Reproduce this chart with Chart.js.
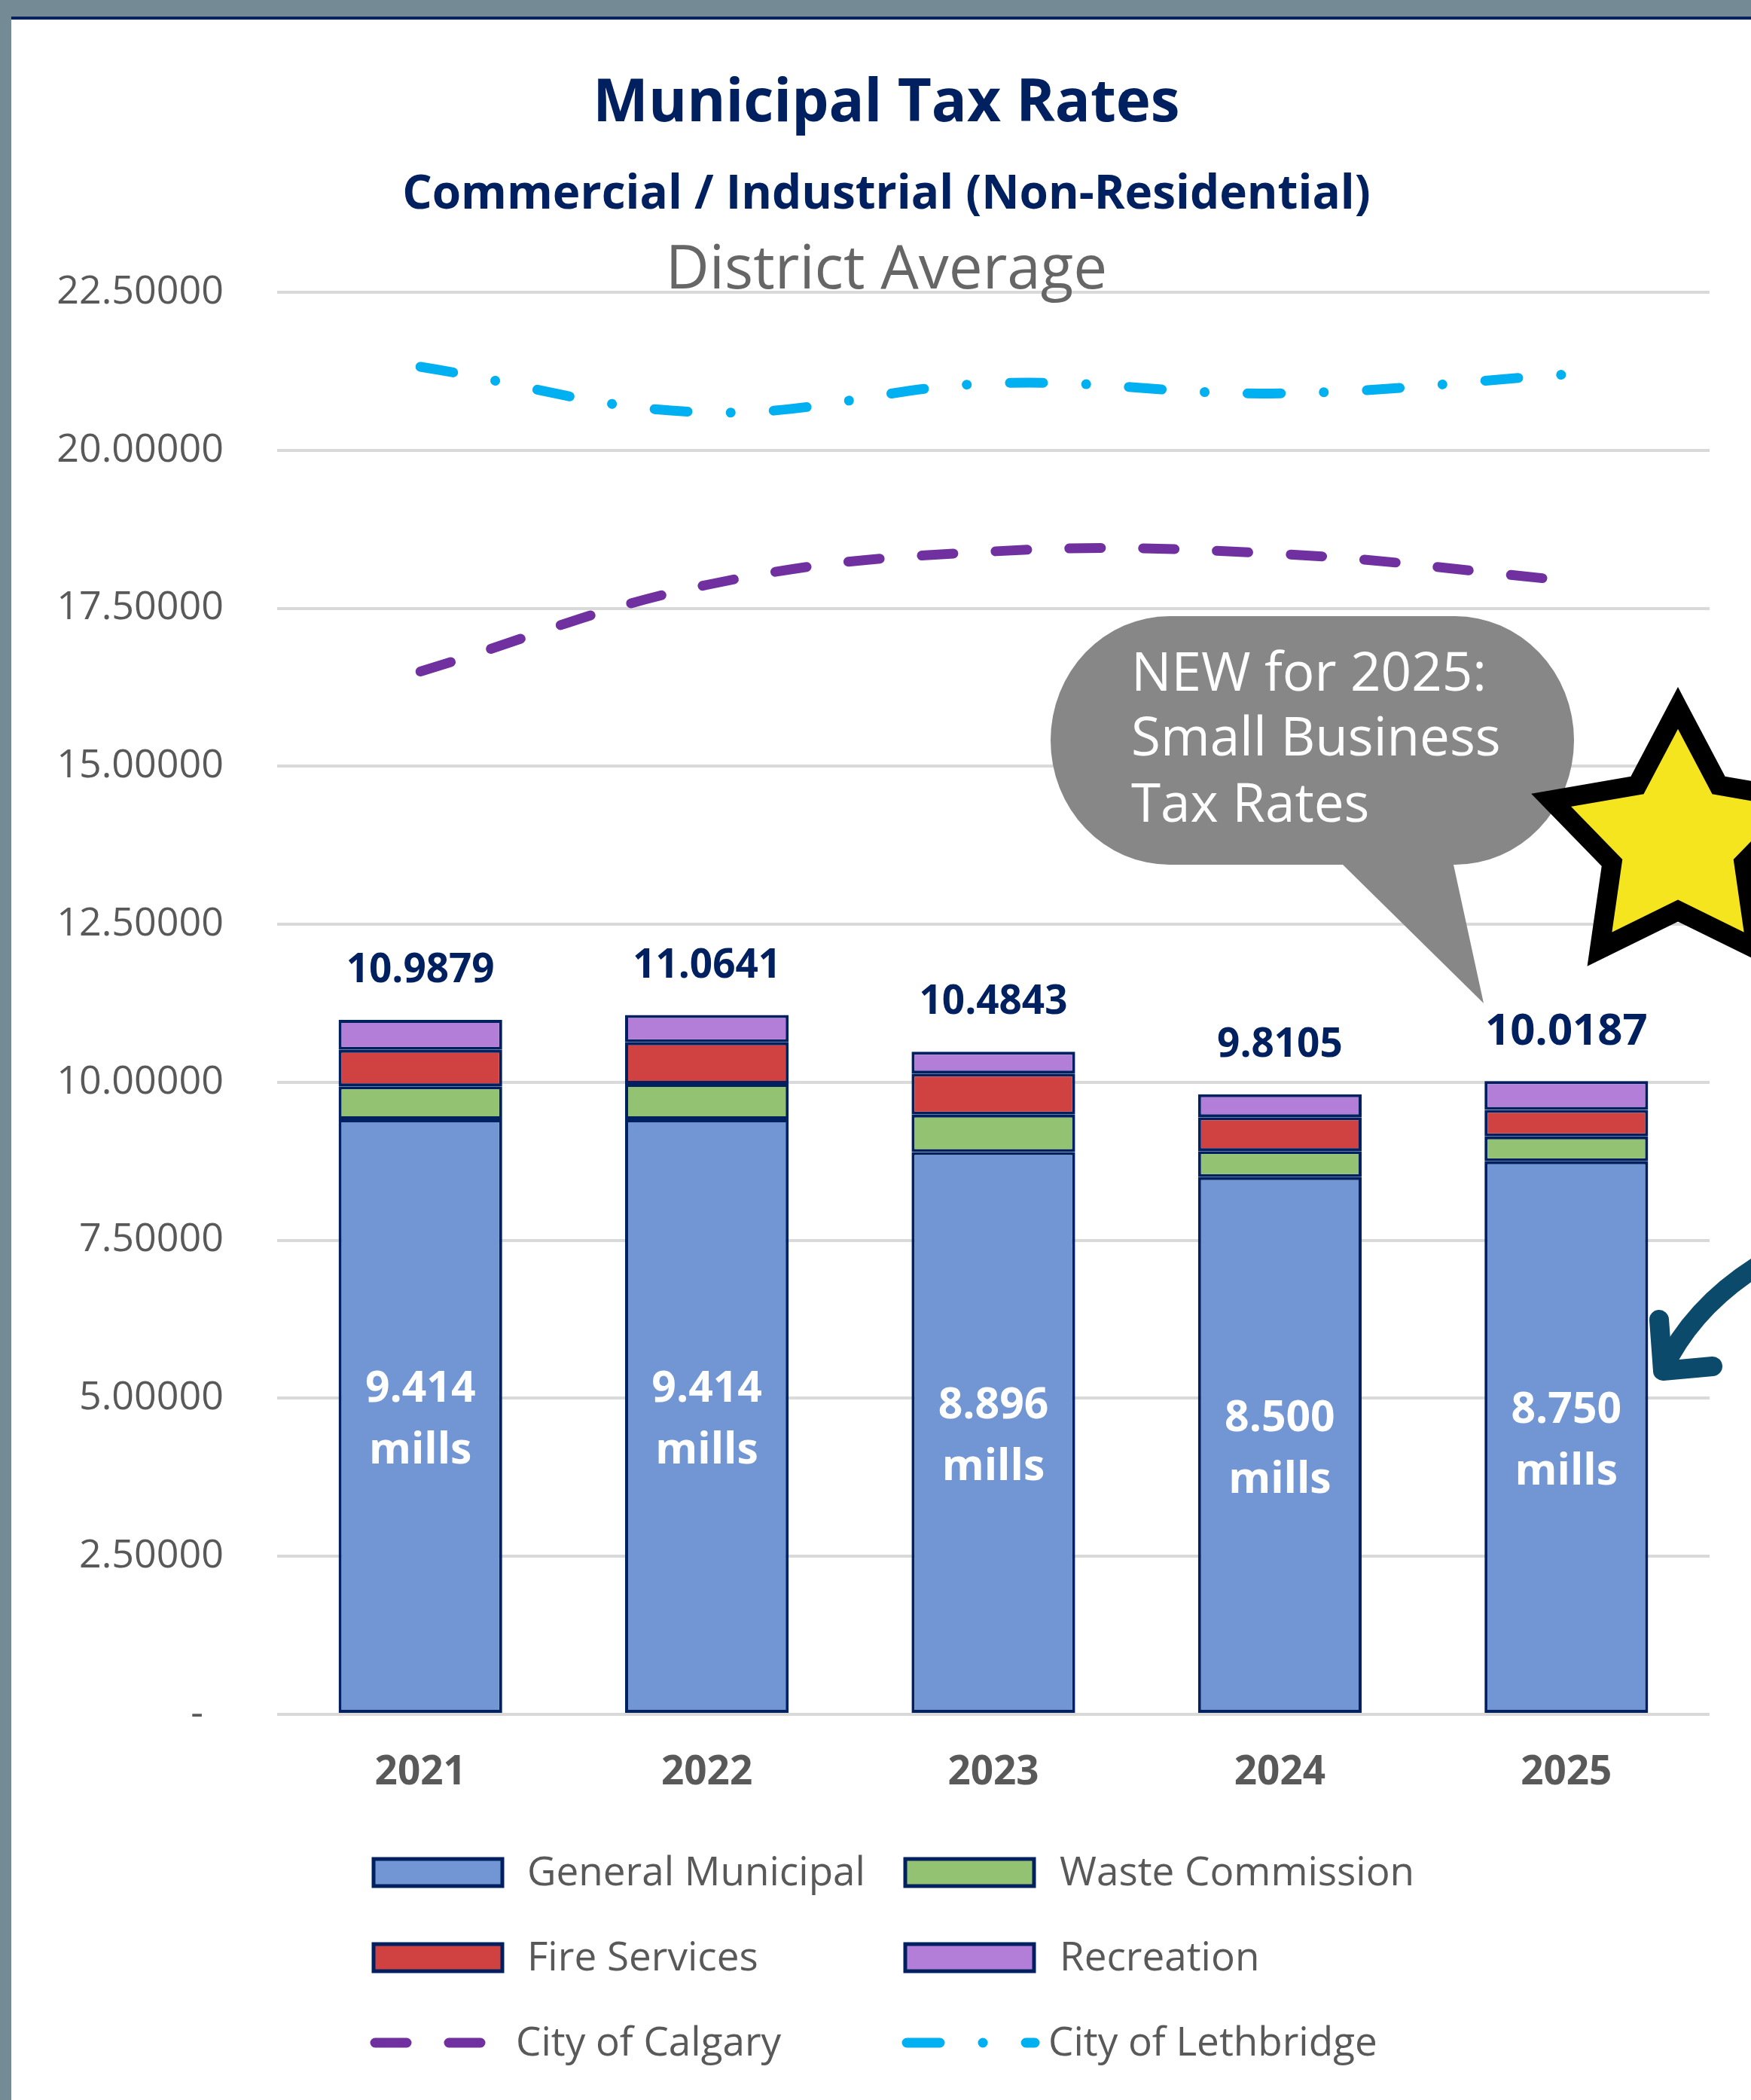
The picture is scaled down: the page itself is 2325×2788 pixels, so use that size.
<!DOCTYPE html>
<html>
<head>
<meta charset="utf-8">
<title>Municipal Tax Rates</title>
<script src="https://cdn.jsdelivr.net/npm/chart.js@4.4.1/dist/chart.umd.min.js"></script>
<style>
  html, body { margin: 0; padding: 0; background: #ffffff; overflow: hidden; }
  canvas { display: block; }
</style>
</head>
<body>
<canvas id="taxChart" width="2325" height="2788"></canvas>
<script>
// years + mill rates
const years = ['2021', '2022', '2023', '2024', '2025'];
const generalMunicipal = [9.414, 9.414, 8.896, 8.500, 8.750];
const wasteCommission = [0.521, 0.562, 0.592, 0.410, 0.395];
const fireServices = [0.580, 0.658, 0.652, 0.538, 0.419];
const recreation = [0.473, 0.430, 0.344, 0.363, 0.455];
const totalLabels = ['10.9879', '11.0641', '10.4843', '9.8105', '10.0187'];
const cityOfCalgary = [16.50, 17.87, 18.40, 18.36, 17.94];
const cityOfLethbridge = [21.32, 20.60, 21.06, 20.90, 21.20];
const yTicks = [0, 2.5, 5, 7.5, 10, 12.5, 15, 17.5, 20, 22.5];

const FONT = "'Open Sans', sans-serif";
const NAVY = '#002060';
const W = 2325, H = 2788;

// background frame, titles, labels, legend and the callout
const decor = {
  id: 'decor',
  beforeDraw(chart) {
    const ctx = chart.ctx;
    ctx.save();
    ctx.fillStyle = '#ffffff';
    ctx.fillRect(0, 0, W, H);
    ctx.fillStyle = '#748B96';
    ctx.fillRect(0, 0, W, 22);
    ctx.fillRect(0, 0, 15, H);
    ctx.fillStyle = NAVY;
    ctx.fillRect(15, 22, W - 15, 4);
    ctx.restore();
  },
  afterDatasetsDraw(chart) {
    const ctx = chart.ctx;
    ctx.save();
    ctx.textAlign = 'center';
    ctx.textBaseline = 'middle';

    // totals above the stacks
    const top = chart.getDatasetMeta(3);
    top.data.forEach((bar, i) => {
      ctx.fillStyle = NAVY;
      ctx.font = 'bold ' + (i === 4 ? 58 : 53) + 'px ' + FONT;
      ctx.fillText(totalLabels[i], bar.x, bar.y - 65);
    });

    // general municipal value inside the blue bar
    const gen = chart.getDatasetMeta(0);
    gen.data.forEach((bar, i) => {
      const cy = (bar.y + bar.base) / 2;
      ctx.fillStyle = '#ffffff';
      ctx.font = 'bold 57px ' + FONT;
      ctx.fillText(generalMunicipal[i].toFixed(3), bar.x, cy - 35);
      ctx.fillText('mills', bar.x, cy + 47);
    });
    ctx.restore();
  },
  afterDraw(chart) {
    const ctx = chart.ctx;
    ctx.save();
    ctx.textAlign = 'center';
    ctx.textBaseline = 'middle';

    ctx.fillStyle = NAVY;
    ctx.font = 'bold 78px ' + FONT;
    ctx.fillText('Municipal Tax Rates', 1177, 139);
    ctx.font = 'bold 62px ' + FONT;
    ctx.fillText('Commercial / Industrial (Non-Residential)', 1177, 259);
    ctx.fillStyle = '#666666';
    ctx.font = '80px ' + FONT;
    ctx.fillText('District Average', 1177, 360);

    // legend, two columns
    const cols = [[496, 700], [1202, 1407]];
    const rows = [2486, 2599, 2712];
    chart.data.datasets.forEach((ds, i) => {
      const r = rows[Math.floor(i / 2)];
      const c = cols[i % 2];
      let textX = c[1];
      if (ds.type === 'line') {
        ctx.strokeStyle = ds.borderColor;
        ctx.lineWidth = ds.borderWidth;
        ctx.lineCap = 'round';
        ctx.setLineDash(ds.borderDash);
        ctx.beginPath();
        ctx.moveTo(c[0] + 2, r);
        ctx.lineTo(c[0] + 172, r);
        ctx.stroke();
        ctx.setLineDash([]);
        textX -= 15;
      } else {
        ctx.fillStyle = ds.backgroundColor;
        ctx.fillRect(c[0], r - 18, 171, 36);
        ctx.strokeStyle = NAVY;
        ctx.lineWidth = 5;
        ctx.strokeRect(c[0], r - 18, 171, 36);
      }
      ctx.fillStyle = '#595959';
      ctx.font = '53px ' + FONT;
      ctx.textAlign = 'left';
      ctx.fillText(ds.label, textX, r + 2);
    });

    // speech bubble
    const L = 1395, R = 2090, T = 818, B = 1148, rx = 158, ry = 165;
    ctx.fillStyle = '#878787';
    ctx.beginPath();
    ctx.moveTo(L + rx, T);
    ctx.lineTo(R - rx, T);
    ctx.ellipse(R - rx, T + ry, rx, ry, 0, -Math.PI / 2, 0);
    ctx.lineTo(R, B - ry);
    ctx.ellipse(R - rx, B - ry, rx, ry, 0, 0, Math.PI / 2);
    ctx.lineTo(1930, B);
    ctx.lineTo(1970, 1332);
    ctx.lineTo(1783, B);
    ctx.lineTo(L + rx, B);
    ctx.ellipse(L + rx, B - ry, rx, ry, 0, Math.PI / 2, Math.PI);
    ctx.lineTo(L, T + ry);
    ctx.ellipse(L + rx, T + ry, rx, ry, 0, Math.PI, Math.PI * 1.5);
    ctx.closePath();
    ctx.fill();
    ctx.fillStyle = '#ffffff';
    ctx.font = '71px ' + FONT;
    ctx.textAlign = 'left';
    ctx.fillText('NEW for 2025:', 1502, 897);
    ctx.fillText('Small Business', 1502, 983);
    ctx.fillText('Tax Rates', 1502, 1071);

    // star
    const sx = 2228, sy = 1117, so = 177, si = 92;
    ctx.beginPath();
    for (let k = 0; k < 10; k++) {
      const rad = k % 2 === 0 ? so : si;
      const a = -Math.PI / 2 + k * Math.PI / 5;
      const px = sx + rad * Math.cos(a), py = sy + rad * Math.sin(a);
      if (k === 0) ctx.moveTo(px, py); else ctx.lineTo(px, py);
    }
    ctx.closePath();
    ctx.fillStyle = '#F5E51E';
    ctx.fill();
    ctx.lineWidth = 26;
    ctx.lineJoin = 'miter';
    ctx.strokeStyle = '#000000';
    ctx.stroke();

    // arrow
    ctx.strokeStyle = '#0B4A6B';
    ctx.lineWidth = 26;
    ctx.lineCap = 'round';
    ctx.lineJoin = 'round';
    ctx.beginPath();
    ctx.moveTo(2345, 1674);
    ctx.quadraticCurveTo(2250, 1730, 2208, 1818);
    ctx.stroke();
    ctx.beginPath();
    ctx.moveTo(2203, 1752);
    ctx.lineTo(2208, 1820);
    ctx.lineTo(2274, 1814);
    ctx.stroke();
    ctx.restore();
  }
};

const barStyle = { type: 'bar', borderColor: NAVY, borderWidth: 4, borderSkipped: false,
  barPercentage: 0.571, categoryPercentage: 1.0 };

new Chart(document.getElementById('taxChart'), {
  data: {
    labels: years,
    datasets: [
      Object.assign({ label: 'General Municipal', data: generalMunicipal, backgroundColor: '#7295D3' }, barStyle),
      Object.assign({ label: 'Waste Commission', data: wasteCommission, backgroundColor: '#93C272' }, barStyle),
      Object.assign({ label: 'Fire Services', data: fireServices, backgroundColor: '#D04141' }, barStyle),
      Object.assign({ label: 'Recreation', data: recreation, backgroundColor: '#B27ED7' }, barStyle),
      {
        type: 'line', label: 'City of Calgary', data: cityOfCalgary, stack: 'calgary',
        borderColor: '#7030A0', borderWidth: 13, borderDash: [42, 56], borderCapStyle: 'round',
        tension: 0.4, pointRadius: 0, fill: false
      },
      {
        type: 'line', label: 'City of Lethbridge', data: cityOfLethbridge, stack: 'lethbridge',
        borderColor: '#00B0F0', borderWidth: 13, borderDash: [44, 57, 0.1, 57], borderCapStyle: 'round',
        tension: 0.4, pointRadius: 0, fill: false
      }
    ]
  },
  options: {
    responsive: false,
    devicePixelRatio: 1,
    animation: false,
    layout: { padding: { top: 388, right: 55, left: 0, bottom: 0 } },
    plugins: { legend: { display: false }, tooltip: { enabled: false }, title: { display: false } },
    scales: {
      x: {
        stacked: true,
        grid: { display: false },
        border: { display: false },
        ticks: { color: '#595959', font: { family: FONT, size: 53, weight: 'bold' }, padding: 38 },
        afterFit(scale) { scale.height = 512; }
      },
      y: {
        stacked: true,
        min: 0,
        max: 22.5,
        afterBuildTicks(scale) { scale.ticks = yTicks.map(v => ({ value: v })); },
        grid: { color: '#D9D9D9', lineWidth: 4, drawTicks: false },
        border: { display: false },
        ticks: {
          color: '#595959',
          padding: 71,
          font: { family: FONT, size: 52 },
          callback: v => v === 0 ? '-  ' : v.toFixed(5)
        },
        afterFit(scale) { scale.width = 368; }
      }
    }
  },
  plugins: [decor]
});
</script>
</body>
</html>
